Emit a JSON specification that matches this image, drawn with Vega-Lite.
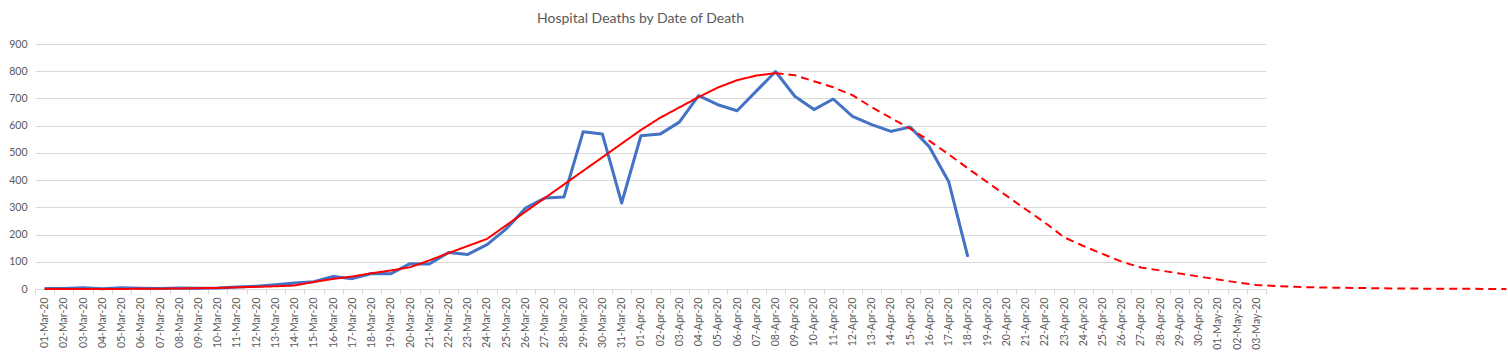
{
  "$schema": "https://vega.github.io/schema/vega-lite/v6.json",
  "autosize": "none",
  "width": 1231,
  "height": 245,
  "padding": {"left": 35, "top": 44, "right": 242, "bottom": 63},
  "background": "white",
  "title": {"text": "Hospital Deaths by Date of Death", "anchor": "middle", "dx": -10, "offset": 13, "font": "Lato", "fontSize": 14, "fontWeight": "normal", "color": "#595959"},
  "config": {"view": {"stroke": null}, "font": "Lato"},
  "data": {"values": [
    {"date": "2020-03-01", "series": "Actual", "deaths": 2},
    {"date": "2020-03-02", "series": "Actual", "deaths": 2},
    {"date": "2020-03-03", "series": "Actual", "deaths": 5},
    {"date": "2020-03-04", "series": "Actual", "deaths": 1},
    {"date": "2020-03-05", "series": "Actual", "deaths": 5},
    {"date": "2020-03-06", "series": "Actual", "deaths": 3},
    {"date": "2020-03-07", "series": "Actual", "deaths": 2},
    {"date": "2020-03-08", "series": "Actual", "deaths": 4},
    {"date": "2020-03-09", "series": "Actual", "deaths": 3},
    {"date": "2020-03-10", "series": "Actual", "deaths": 4},
    {"date": "2020-03-11", "series": "Actual", "deaths": 7},
    {"date": "2020-03-12", "series": "Actual", "deaths": 10},
    {"date": "2020-03-13", "series": "Actual", "deaths": 16},
    {"date": "2020-03-14", "series": "Actual", "deaths": 22},
    {"date": "2020-03-15", "series": "Actual", "deaths": 27},
    {"date": "2020-03-16", "series": "Actual", "deaths": 46},
    {"date": "2020-03-17", "series": "Actual", "deaths": 38},
    {"date": "2020-03-18", "series": "Actual", "deaths": 57},
    {"date": "2020-03-19", "series": "Actual", "deaths": 56},
    {"date": "2020-03-20", "series": "Actual", "deaths": 93},
    {"date": "2020-03-21", "series": "Actual", "deaths": 92},
    {"date": "2020-03-22", "series": "Actual", "deaths": 134},
    {"date": "2020-03-23", "series": "Actual", "deaths": 127},
    {"date": "2020-03-24", "series": "Actual", "deaths": 163},
    {"date": "2020-03-25", "series": "Actual", "deaths": 221},
    {"date": "2020-03-26", "series": "Actual", "deaths": 297},
    {"date": "2020-03-27", "series": "Actual", "deaths": 334},
    {"date": "2020-03-28", "series": "Actual", "deaths": 338},
    {"date": "2020-03-29", "series": "Actual", "deaths": 578},
    {"date": "2020-03-30", "series": "Actual", "deaths": 569},
    {"date": "2020-03-31", "series": "Actual", "deaths": 316},
    {"date": "2020-04-01", "series": "Actual", "deaths": 563},
    {"date": "2020-04-02", "series": "Actual", "deaths": 569},
    {"date": "2020-04-03", "series": "Actual", "deaths": 613},
    {"date": "2020-04-04", "series": "Actual", "deaths": 710},
    {"date": "2020-04-05", "series": "Actual", "deaths": 677},
    {"date": "2020-04-06", "series": "Actual", "deaths": 655},
    {"date": "2020-04-07", "series": "Actual", "deaths": 727},
    {"date": "2020-04-08", "series": "Actual", "deaths": 799},
    {"date": "2020-04-09", "series": "Actual", "deaths": 708},
    {"date": "2020-04-10", "series": "Actual", "deaths": 659},
    {"date": "2020-04-11", "series": "Actual", "deaths": 698},
    {"date": "2020-04-12", "series": "Actual", "deaths": 634},
    {"date": "2020-04-13", "series": "Actual", "deaths": 604},
    {"date": "2020-04-14", "series": "Actual", "deaths": 579},
    {"date": "2020-04-15", "series": "Actual", "deaths": 595},
    {"date": "2020-04-16", "series": "Actual", "deaths": 522},
    {"date": "2020-04-17", "series": "Actual", "deaths": 395},
    {"date": "2020-04-18", "series": "Actual", "deaths": 118},
    {"date": "2020-03-01", "series": "Model", "deaths": 0},
    {"date": "2020-03-02", "series": "Model", "deaths": 0},
    {"date": "2020-03-03", "series": "Model", "deaths": 0},
    {"date": "2020-03-04", "series": "Model", "deaths": 0},
    {"date": "2020-03-05", "series": "Model", "deaths": 0},
    {"date": "2020-03-06", "series": "Model", "deaths": 1},
    {"date": "2020-03-07", "series": "Model", "deaths": 1},
    {"date": "2020-03-08", "series": "Model", "deaths": 2},
    {"date": "2020-03-09", "series": "Model", "deaths": 3},
    {"date": "2020-03-10", "series": "Model", "deaths": 4},
    {"date": "2020-03-11", "series": "Model", "deaths": 6},
    {"date": "2020-03-12", "series": "Model", "deaths": 8},
    {"date": "2020-03-13", "series": "Model", "deaths": 10},
    {"date": "2020-03-14", "series": "Model", "deaths": 13},
    {"date": "2020-03-15", "series": "Model", "deaths": 26},
    {"date": "2020-03-16", "series": "Model", "deaths": 37},
    {"date": "2020-03-17", "series": "Model", "deaths": 46},
    {"date": "2020-03-18", "series": "Model", "deaths": 58},
    {"date": "2020-03-19", "series": "Model", "deaths": 68},
    {"date": "2020-03-20", "series": "Model", "deaths": 80},
    {"date": "2020-03-21", "series": "Model", "deaths": 105},
    {"date": "2020-03-22", "series": "Model", "deaths": 132},
    {"date": "2020-03-23", "series": "Model", "deaths": 158},
    {"date": "2020-03-24", "series": "Model", "deaths": 184},
    {"date": "2020-03-25", "series": "Model", "deaths": 234},
    {"date": "2020-03-26", "series": "Model", "deaths": 284},
    {"date": "2020-03-27", "series": "Model", "deaths": 334},
    {"date": "2020-03-28", "series": "Model", "deaths": 384},
    {"date": "2020-03-29", "series": "Model", "deaths": 434},
    {"date": "2020-03-30", "series": "Model", "deaths": 484},
    {"date": "2020-03-31", "series": "Model", "deaths": 534},
    {"date": "2020-04-01", "series": "Model", "deaths": 584},
    {"date": "2020-04-02", "series": "Model", "deaths": 629},
    {"date": "2020-04-03", "series": "Model", "deaths": 667},
    {"date": "2020-04-04", "series": "Model", "deaths": 705},
    {"date": "2020-04-05", "series": "Model", "deaths": 740},
    {"date": "2020-04-06", "series": "Model", "deaths": 767},
    {"date": "2020-04-07", "series": "Model", "deaths": 784},
    {"date": "2020-04-08", "series": "Model", "deaths": 793},
    {"date": "2020-04-08", "series": "Projection", "deaths": 793},
    {"date": "2020-04-09", "series": "Projection", "deaths": 785},
    {"date": "2020-04-10", "series": "Projection", "deaths": 763},
    {"date": "2020-04-11", "series": "Projection", "deaths": 741},
    {"date": "2020-04-12", "series": "Projection", "deaths": 712},
    {"date": "2020-04-13", "series": "Projection", "deaths": 668},
    {"date": "2020-04-14", "series": "Projection", "deaths": 628},
    {"date": "2020-04-15", "series": "Projection", "deaths": 589},
    {"date": "2020-04-16", "series": "Projection", "deaths": 544},
    {"date": "2020-04-17", "series": "Projection", "deaths": 495},
    {"date": "2020-04-18", "series": "Projection", "deaths": 443},
    {"date": "2020-04-19", "series": "Projection", "deaths": 393},
    {"date": "2020-04-20", "series": "Projection", "deaths": 343},
    {"date": "2020-04-21", "series": "Projection", "deaths": 293},
    {"date": "2020-04-22", "series": "Projection", "deaths": 244},
    {"date": "2020-04-23", "series": "Projection", "deaths": 190},
    {"date": "2020-04-24", "series": "Projection", "deaths": 158},
    {"date": "2020-04-25", "series": "Projection", "deaths": 129},
    {"date": "2020-04-26", "series": "Projection", "deaths": 100},
    {"date": "2020-04-27", "series": "Projection", "deaths": 79},
    {"date": "2020-04-28", "series": "Projection", "deaths": 68},
    {"date": "2020-04-29", "series": "Projection", "deaths": 57},
    {"date": "2020-04-30", "series": "Projection", "deaths": 46},
    {"date": "2020-05-01", "series": "Projection", "deaths": 35},
    {"date": "2020-05-02", "series": "Projection", "deaths": 24},
    {"date": "2020-05-03", "series": "Projection", "deaths": 15},
    {"date": "2020-05-04", "series": "Projection", "deaths": 11},
    {"date": "2020-05-05", "series": "Projection", "deaths": 8},
    {"date": "2020-05-06", "series": "Projection", "deaths": 6},
    {"date": "2020-05-07", "series": "Projection", "deaths": 5},
    {"date": "2020-05-08", "series": "Projection", "deaths": 4},
    {"date": "2020-05-09", "series": "Projection", "deaths": 3},
    {"date": "2020-05-10", "series": "Projection", "deaths": 2},
    {"date": "2020-05-11", "series": "Projection", "deaths": 2},
    {"date": "2020-05-12", "series": "Projection", "deaths": 1},
    {"date": "2020-05-13", "series": "Projection", "deaths": 1},
    {"date": "2020-05-14", "series": "Projection", "deaths": 1},
    {"date": "2020-05-15", "series": "Projection", "deaths": 0},
    {"date": "2020-05-16", "series": "Projection", "deaths": 0}
  ]},
  "encoding": {
    "x": {
      "field": "date", "type": "temporal",
      "scale": {"type": "utc", "domain": [{"year": 2020, "month": 2, "date": 29, "hours": 12, "utc": true}, {"year": 2020, "month": 5, "date": 3, "hours": 12, "utc": true}], "nice": false},
      "axis": {
        "title": null, "grid": false,
        "values": [1582977600000,1583064000000,1583150400000,1583236800000,1583323200000,1583409600000,1583496000000,1583582400000,1583668800000,1583755200000,1583841600000,1583928000000,1584014400000,1584100800000,1584187200000,1584273600000,1584360000000,1584446400000,1584532800000,1584619200000,1584705600000,1584792000000,1584878400000,1584964800000,1585051200000,1585137600000,1585224000000,1585310400000,1585396800000,1585483200000,1585569600000,1585656000000,1585742400000,1585828800000,1585915200000,1586001600000,1586088000000,1586174400000,1586260800000,1586347200000,1586433600000,1586520000000,1586606400000,1586692800000,1586779200000,1586865600000,1586952000000,1587038400000,1587124800000,1587211200000,1587297600000,1587384000000,1587470400000,1587556800000,1587643200000,1587729600000,1587816000000,1587902400000,1587988800000,1588075200000,1588161600000,1588248000000,1588334400000,1588420800000,1588507200000],
        "labelExpr": "toNumber(datum.value) >= 1588500000000 ? '' : utcFormat(toNumber(datum.value) + 43200000, '%d-%b-%y')",
        "labelOffset": 9.6,
        "labelAngle": 270,
        "labelOverlap": false,
        "labelFlush": false,
        "labelFont": "Lato", "labelFontSize": 10.5, "labelColor": "#595959",
        "labelPadding": 3,
        "tickSize": 5, "tickColor": "#d9d9d9",
        "domainColor": "#d9d9d9"
      }
    },
    "y": {
      "field": "deaths", "type": "quantitative",
      "scale": {"domain": [0, 900], "nice": false},
      "axis": {"title": null, "values": [0,100,200,300,400,500,600,700,800,900], "domain": false, "ticks": false, "labelPadding": 8, "labelFont": "Lato", "labelFontSize": 10.5, "labelColor": "#595959", "gridColor": "#d9d9d9", "gridWidth": 1}
    }
  },
  "layer": [
    {
      "transform": [{"filter": "datum.series === 'Actual'"}],
      "mark": {"type": "line", "color": "#4472C4", "strokeWidth": 3, "strokeJoin": "round", "clip": false}
    },
    {
      "transform": [{"filter": "datum.series !== 'Actual'"}],
      "mark": {"type": "line", "color": "#FF0000", "strokeWidth": 2, "strokeJoin": "round", "clip": false},
      "encoding": {
        "strokeDash": {"field": "series", "type": "nominal", "scale": {"domain": ["Model", "Projection"], "range": [[1, 0], [8, 5]]}, "legend": null}
      }
    }
  ]
}
